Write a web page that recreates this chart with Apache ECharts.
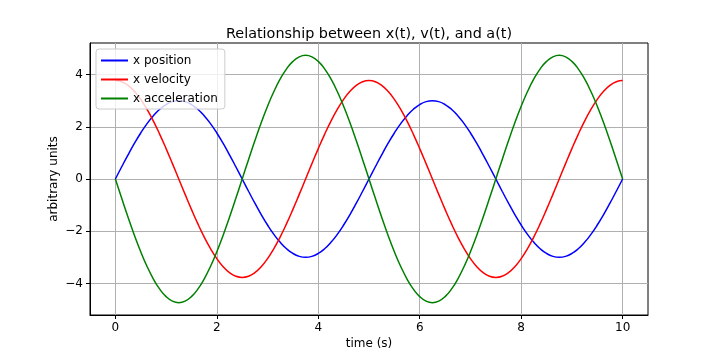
<!DOCTYPE html>
<html><head><meta charset="utf-8">
<script src="https://cdn.jsdelivr.net/npm/echarts@6/dist/echarts.min.js"></script>
<style>html,body{margin:0;padding:0;background:#fff}#c{width:720px;height:360px}</style>
</head><body><div id="c"></div>
<script>
const timeS = [0,0.125,0.25,0.375,0.5,0.625,0.75,0.875,1,1.125,1.25,1.375,1.5,1.625,1.75,1.875,2,2.125,2.25,2.375,2.5,2.625,2.75,2.875,3,3.125,3.25,3.375,3.5,3.625,3.75,3.875,4,4.125,4.25,4.375,4.5,4.625,4.75,4.875,5,5.125,5.25,5.375,5.5,5.625,5.75,5.875,6,6.125,6.25,6.375,6.5,6.625,6.75,6.875,7,7.125,7.25,7.375,7.5,7.625,7.75,7.875,8,8.125,8.25,8.375,8.5,8.625,8.75,8.875,9,9.125,9.25,9.375,9.5,9.625,9.75,9.875,10];
const position = [0,0.469,0.927,1.362,1.763,2.121,2.427,2.673,2.853,2.963,3,2.963,2.853,2.673,2.427,2.121,1.763,1.362,0.927,0.469,0,-0.469,-0.927,-1.362,-1.763,-2.121,-2.427,-2.673,-2.853,-2.963,-3,-2.963,-2.853,-2.673,-2.427,-2.121,-1.763,-1.362,-0.927,-0.469,0,0.469,0.927,1.362,1.763,2.121,2.427,2.673,2.853,2.963,3,2.963,2.853,2.673,2.427,2.121,1.763,1.362,0.927,0.469,0,-0.469,-0.927,-1.362,-1.763,-2.121,-2.427,-2.673,-2.853,-2.963,-3,-2.963,-2.853,-2.673,-2.427,-2.121,-1.763,-1.362,-0.927,-0.469,0];
const velocity = [3.770,3.724,3.585,3.359,3.050,2.666,2.216,1.712,1.165,0.590,0,-0.590,-1.165,-1.712,-2.216,-2.666,-3.050,-3.359,-3.585,-3.724,-3.770,-3.724,-3.585,-3.359,-3.050,-2.666,-2.216,-1.712,-1.165,-0.590,0,0.590,1.165,1.712,2.216,2.666,3.050,3.359,3.585,3.724,3.770,3.724,3.585,3.359,3.050,2.666,2.216,1.712,1.165,0.590,0,-0.590,-1.165,-1.712,-2.216,-2.666,-3.050,-3.359,-3.585,-3.724,-3.770,-3.724,-3.585,-3.359,-3.050,-2.666,-2.216,-1.712,-1.165,-0.590,0,0.590,1.165,1.712,2.216,2.666,3.050,3.359,3.585,3.724,3.770];
const acceleration = [0,-0.741,-1.464,-2.151,-2.784,-3.350,-3.832,-4.221,-4.505,-4.679,-4.737,-4.679,-4.505,-4.221,-3.832,-3.350,-2.784,-2.151,-1.464,-0.741,0,0.741,1.464,2.151,2.784,3.350,3.832,4.221,4.505,4.679,4.737,4.679,4.505,4.221,3.832,3.350,2.784,2.151,1.464,0.741,0,-0.741,-1.464,-2.151,-2.784,-3.350,-3.832,-4.221,-4.505,-4.679,-4.737,-4.679,-4.505,-4.221,-3.832,-3.350,-2.784,-2.151,-1.464,-0.741,0,0.741,1.464,2.151,2.784,3.350,3.832,4.221,4.505,4.679,4.737,4.679,4.505,4.221,3.832,3.350,2.784,2.151,1.464,0.741,0];
const xTicks = [0,2,4,6,8,10];
const yTicks = [-4,-2,0,2,4];
const seriesNames = ['x position','x velocity','x acceleration'];
const colors = ['#0000ff','#ff0000','#008000'];

const font = 'DejaVu Sans';
const pair = arr => timeS.map((t,i)=>[t,arr[i]]);
const chart = echarts.init(document.getElementById('c'), null, {renderer:'canvas'});
chart.setOption({
  animation:false,
  textStyle:{fontFamily:font},
  title:{text:'Relationship between x(t), v(t), and a(t)', left:364, textAlign:'center', top:22,
    textStyle:{fontFamily:font, fontSize:14.4, fontWeight:'normal', color:'#000'}},
  grid:{left:90, right:72, top:43, bottom:45, show:true, borderColor:'#000', borderWidth:1, containLabel:false},
  legend:{orient:'vertical', left:96, top:49, padding:[4,7,3,5], itemGap:4, itemWidth:27, itemHeight:2, icon:'rect',
    backgroundColor:'rgba(255,255,255,0.8)', borderColor:'#cccccc', borderWidth:1, borderRadius:3,
    textStyle:{fontFamily:font, fontSize:12, color:'#000', lineHeight:15},
    data:seriesNames},
  xAxis:{type:'value', min:-0.5, max:10.5, name:'time (s)', nameLocation:'middle', nameGap:23, nameMoveOverlap:false,
    nameTextStyle:{fontFamily:font, fontSize:12, color:'#000'},
    axisLine:{show:true, onZero:false, lineStyle:{color:'#000', width:1}},
    axisTick:{show:true, inside:false, length:4, lineStyle:{color:'#000'}, customValues:xTicks},
    axisLabel:{margin:7, fontFamily:font, fontSize:12, color:'#000', customValues:xTicks},
    splitLine:{show:true, lineStyle:{color:'#b0b0b0', width:1}}},
  yAxis:{type:'value', min:-5.21, max:5.21, name:'arbitrary units', nameLocation:'middle', nameGap:30, nameRotate:90, nameMoveOverlap:false,
    nameTextStyle:{fontFamily:font, fontSize:12, color:'#000'},
    axisLine:{show:true, onZero:false, lineStyle:{color:'#000', width:1}},
    axisTick:{show:true, inside:false, length:4, lineStyle:{color:'#000'}, customValues:yTicks},
    axisLabel:{margin:7, fontFamily:font, fontSize:12, color:'#000', customValues:yTicks,
      formatter:v=> v<0 ? '\u2212'+Math.abs(v) : String(v)},
    splitLine:{show:true, lineStyle:{color:'#b0b0b0', width:1}}},
  series:[position,velocity,acceleration].map((arr,i)=>({
    name:seriesNames[i], type:'line', data:pair(arr), smooth:true, showSymbol:false, symbol:'none',
    lineStyle:{color:colors[i], width:1.5}, itemStyle:{color:colors[i]}, z:2+i
  }))
});
</script></body></html>
